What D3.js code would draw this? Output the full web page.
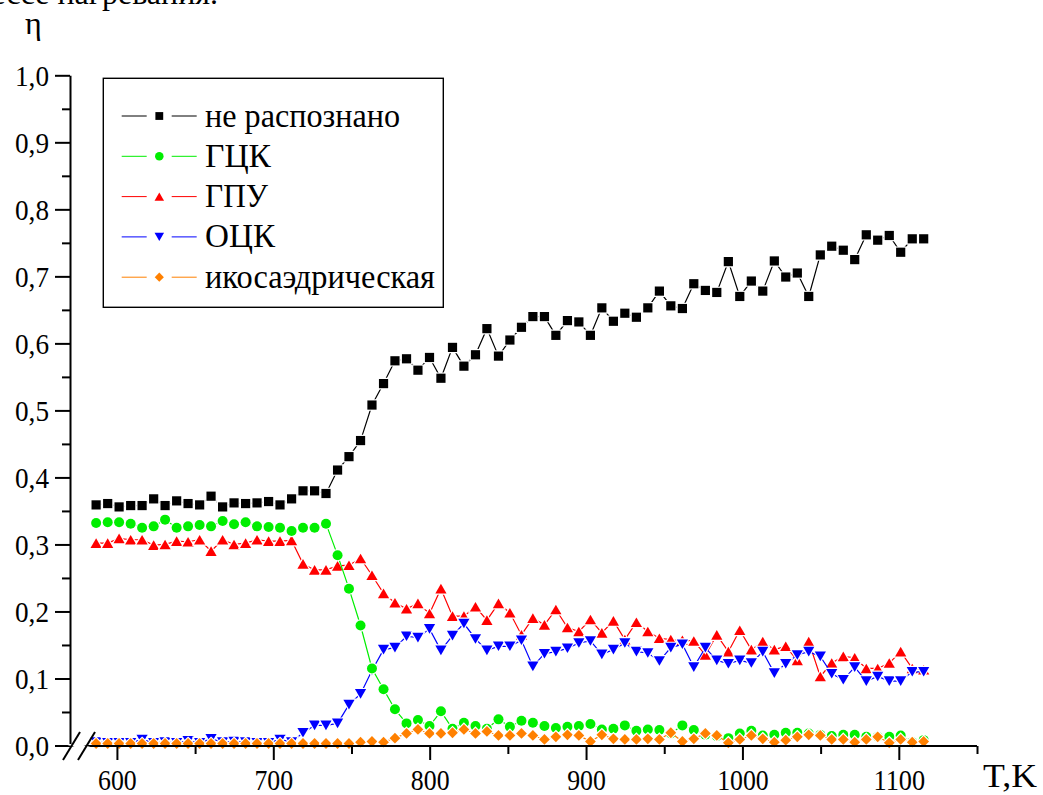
<!DOCTYPE html>
<html><head><meta charset="utf-8">
<script src="https://cdn.jsdelivr.net/npm/d3@7"></script>
<style>
html,body{margin:0;padding:0;background:#fff;overflow:hidden;}
svg{display:block;}
</style></head>
<body>
<svg id="c" width="1043" height="795"></svg>
<script>
// ---- data ----
const temperature = [586.7,594.1,601.4,608.8,616.1,623.5,630.8,638.2,645.5,652.9,
660.2,667.6,674.9,682.3,689.6,697.0,704.3,711.7,719.0,726.4,
733.7,741.1,748.4,755.8,763.1,770.5,777.8,785.2,792.5,799.9,
807.2,814.6,821.9,829.3,836.6,844.0,851.3,858.7,866.0,873.4,
880.7,888.1,895.4,902.8,910.1,917.5,924.8,932.2,939.5,946.9,
954.2,961.6,968.9,976.3,983.6,991.0,998.3,1005.7,1013.0,1020.4,
1027.7,1035.1,1042.4,1049.8,1057.1,1064.5,1071.8,1079.2,1086.5,1093.9,
1101.2,1108.6,1115.9];

const unrecognized = [0.359,0.361,0.356,0.358,0.358,0.368,0.358,0.365,0.361,0.359,
0.372,0.356,0.362,0.361,0.362,0.364,0.359,0.368,0.380,0.380,
0.376,0.411,0.431,0.455,0.508,0.540,0.574,0.577,0.560,0.579,
0.548,0.594,0.566,0.583,0.622,0.581,0.605,0.624,0.640,0.640,
0.612,0.634,0.632,0.612,0.653,0.633,0.645,0.639,0.653,0.678,
0.656,0.652,0.689,0.679,0.676,0.722,0.670,0.693,0.678,0.723,
0.699,0.705,0.670,0.732,0.745,0.739,0.725,0.762,0.754,0.761,
0.736,0.756,0.756];

const fcc = [0.332,0.333,0.333,0.331,0.325,0.327,0.337,0.325,0.327,0.329,
0.327,0.335,0.330,0.333,0.327,0.326,0.325,0.320,0.325,0.325,
0.331,0.284,0.234,0.179,0.115,0.084,0.054,0.033,0.038,0.029,
0.051,0.025,0.034,0.029,0.025,0.039,0.028,0.037,0.034,0.029,
0.026,0.028,0.029,0.032,0.024,0.025,0.030,0.022,0.024,0.023,
0.018,0.030,0.023,0.016,0.014,0.011,0.018,0.022,0.015,0.016,
0.019,0.019,0.018,0.016,0.014,0.016,0.016,0.013,0.013,0.013,
0.015,0.005,0.008];

const hcp = [0.302,0.302,0.309,0.307,0.307,0.299,0.300,0.305,0.304,0.307,
0.290,0.307,0.300,0.302,0.307,0.305,0.305,0.306,0.271,0.262,
0.262,0.268,0.269,0.279,0.254,0.227,0.213,0.204,0.212,0.197,
0.234,0.193,0.193,0.207,0.187,0.212,0.198,0.165,0.190,0.180,
0.203,0.176,0.170,0.188,0.168,0.186,0.158,0.184,0.170,0.160,
0.158,0.157,0.156,0.135,0.165,0.140,0.172,0.143,0.155,0.143,
0.148,0.127,0.155,0.103,0.123,0.133,0.131,0.115,0.115,0.123,
0.140,0.115,0.113];

const bcc = [0.005,0.004,0.004,0.004,0.009,0.004,0.005,0.004,0.007,0.004,
0.010,0.005,0.006,0.005,0.004,0.004,0.009,0.005,0.019,0.030,
0.030,0.033,0.061,0.077,0.112,0.143,0.146,0.163,0.161,0.174,
0.142,0.164,0.182,0.159,0.142,0.148,0.148,0.157,0.118,0.137,
0.140,0.145,0.153,0.156,0.136,0.143,0.153,0.140,0.138,0.126,
0.146,0.151,0.117,0.146,0.127,0.122,0.127,0.123,0.140,0.108,
0.122,0.135,0.140,0.133,0.107,0.098,0.117,0.096,0.103,0.096,
0.096,0.110,0.110];

const icosahedral = [0.003,0.003,0.003,0.003,0.003,0.003,0.003,0.003,0.003,0.003,
0.003,0.003,0.003,0.003,0.003,0.003,0.003,0.003,0.003,0.003,
0.003,0.003,0.003,0.005,0.006,0.005,0.011,0.018,0.024,0.018,
0.018,0.019,0.024,0.018,0.021,0.015,0.015,0.018,0.015,0.009,
0.013,0.016,0.015,0.006,0.016,0.010,0.009,0.009,0.010,0.009,
0.019,0.006,0.010,0.018,0.015,0.004,0.009,0.015,0.010,0.005,
0.008,0.013,0.016,0.015,0.009,0.009,0.005,0.009,0.013,0.004,
0.009,0.005,0.006];

const seriesNames = ["не распознано","ГЦК","ГПУ","ОЦК","икосаэдрическая"];
const seriesColors = ["#000000","#00ee00","#ff0000","#0000ff","#ff8000"];
const seriesSymbols = ["square","circle","triUp","triDown","diamond"];
const yTicks = [0,0.1,0.2,0.3,0.4,0.5,0.6,0.7,0.8,0.9,1.0];
const xTicks = [600,700,800,900,1000,1100];

// ---- drawing ----
const FONT = '"Liberation Serif"';
const svg = d3.select("#c");
const x = d3.scaleLinear().domain([570,1150]).range([70,977]);
const y = d3.scaleLinear().domain([0,1]).range([745.5,75.3]);

function symPath(type, s){
  if(type==="square"){const h=4.6*s;return `M${-h},${-h}H${h}V${h}H${-h}Z`;}
  if(type==="circle"){const r=5*s;return `M${r},0A${r},${r} 0 1,1 ${-r},0A${r},${r} 0 1,1 ${r},0Z`;}
  if(type==="triUp"){const w=5.6*s,h=4.8*s;return `M0,${-h}L${w},${h}L${-w},${h}Z`;}
  if(type==="triDown"){const w=5.6*s,h=4.8*s;return `M0,${h}L${w},${-h}L${-w},${-h}Z`;}
  if(type==="diamond"){const d=5.4*s;return `M0,${-d}L${d},0L0,${d}L${-d},0Z`;}
}

// clipped top text (continuation of the page)
svg.append("text").attr("x",218).attr("y",4).attr("text-anchor","end")
  .attr("font-family",FONT).attr("font-size",32).text("в процессе нагревания.");

// series (draw order: black, red, blue, green, orange)
const seriesData = [unrecognized,fcc,hcp,bcc,icosahedral];
const order = [0,2,3,1,4];
const plot = svg.append("g");
order.forEach(k=>{
  const vals = seriesData[k];
  const pts = temperature.map((t,i)=>[t,vals[i]]);
  const g = plot.append("g");
  g.append("path").datum(pts)
    .attr("d", d3.line().x(d=>x(d[0])).y(d=>y(d[1])))
    .attr("fill","none").attr("stroke",seriesColors[k]).attr("stroke-width",1.2);
  g.selectAll("path.m").data(pts).join("path").attr("class","m")
    .attr("transform",d=>`translate(${x(d[0])},${y(d[1])})`)
    .attr("d",symPath(seriesSymbols[k],1))
    .attr("fill",seriesColors[k])
    .attr("stroke","#fff").attr("stroke-width",2.4)
    .attr("paint-order","stroke");
});

// axes
const ax = svg.append("g");
const yAxis = ax.append("g").attr("transform","translate(70,0)")
  .call(d3.axisLeft(y).tickValues(yTicks).tickSize(15).tickSizeOuter(0)
    .tickPadding(7).tickFormat(d=>d3.format(".1f")(d).replace(".",",")));
yAxis.attr("font-family",FONT).attr("font-size",30);
yAxis.select(".domain").attr("stroke-width",2);
yAxis.selectAll(".tick line").attr("stroke-width",2);
yAxis.selectAll(".tick text")
  .attr("dy","0.33em").attr("textLength",34).attr("lengthAdjust","spacingAndGlyphs")
  .attr("x",-21);
const yMinor = ax.append("g").attr("transform","translate(70,0)")
  .call(d3.axisLeft(y).tickValues(yTicks.slice(0,-1).map(v=>v+0.05)).tickSize(8).tickSizeOuter(0).tickFormat(""));
yMinor.select(".domain").remove();
yMinor.selectAll(".tick line").attr("stroke-width",2);

const xAxisG = ax.append("g").attr("transform","translate(0,746)");
xAxisG.append("line").attr("x1",55).attr("x2",977).attr("y1",0).attr("y2",0)
  .attr("stroke","#000").attr("stroke-width",2);
const xa = xAxisG.append("g")
  .call(d3.axisBottom(x).tickValues(xTicks).tickSize(14).tickSizeOuter(0).tickPadding(9)
    .tickFormat(d3.format("d")));
xa.attr("font-family",FONT).attr("font-size",30);
xa.select(".domain").remove();
xa.selectAll(".tick line").attr("stroke-width",2);
xa.selectAll(".tick text")
  .attr("dy","0.71em")
  .each(function(d){d3.select(this).attr("textLength",String(d).length*12.9).attr("lengthAdjust","spacingAndGlyphs");});
const xm = xAxisG.append("g")
  .call(d3.axisBottom(x).tickValues([650,750,850,950,1050,1150]).tickSize(8).tickSizeOuter(0).tickFormat(""));
xm.select(".domain").remove();
xm.selectAll(".tick line").attr("stroke-width",2);

// axis break marks
ax.append("path").attr("d","M64,744 L80,744 L94,748 L78,748 Z").attr("fill","#fff");
ax.append("line").attr("x1",63).attr("y1",760).attr("x2",80).attr("y2",732).attr("stroke","#000").attr("stroke-width",2);
ax.append("line").attr("x1",78).attr("y1",760).attr("x2",95).attr("y2",732).attr("stroke","#000").attr("stroke-width",2);

// axis titles
svg.append("text").attr("x",25).attr("y",34).attr("font-family",FONT).attr("font-size",32).text("η");
svg.append("text").attr("x",983).attr("y",787).attr("font-family",FONT).attr("font-size",33)
  .attr("textLength",54).attr("lengthAdjust","spacingAndGlyphs").text("T,K");

// legend
const lg = svg.append("g");
lg.append("rect").attr("x",103.3).attr("y",78.3).attr("width",340).attr("height",229)
  .attr("fill","#fff").attr("stroke","#000").attr("stroke-width",1.4);
const legendWidths = [195,66,63,70,230];
seriesNames.forEach((name,k)=>{
  const cy = 116 + k*40.3;
  lg.append("line").attr("x1",121.7).attr("x2",146.7).attr("y1",cy).attr("y2",cy)
    .attr("stroke",seriesColors[k]).attr("stroke-width",1);
  lg.append("line").attr("x1",171.7).attr("x2",196.7).attr("y1",cy).attr("y2",cy)
    .attr("stroke",seriesColors[k]).attr("stroke-width",1);
  lg.append("path").attr("transform",`translate(159.3,${cy})`)
    .attr("d",symPath(seriesSymbols[k],0.85)).attr("fill",seriesColors[k]);
  lg.append("text").attr("x",205).attr("y",cy+10.5).attr("font-family",FONT).attr("font-size",33)
    .attr("textLength",legendWidths[k]).attr("lengthAdjust","spacingAndGlyphs").text(name);
});
</script>
</body></html>
